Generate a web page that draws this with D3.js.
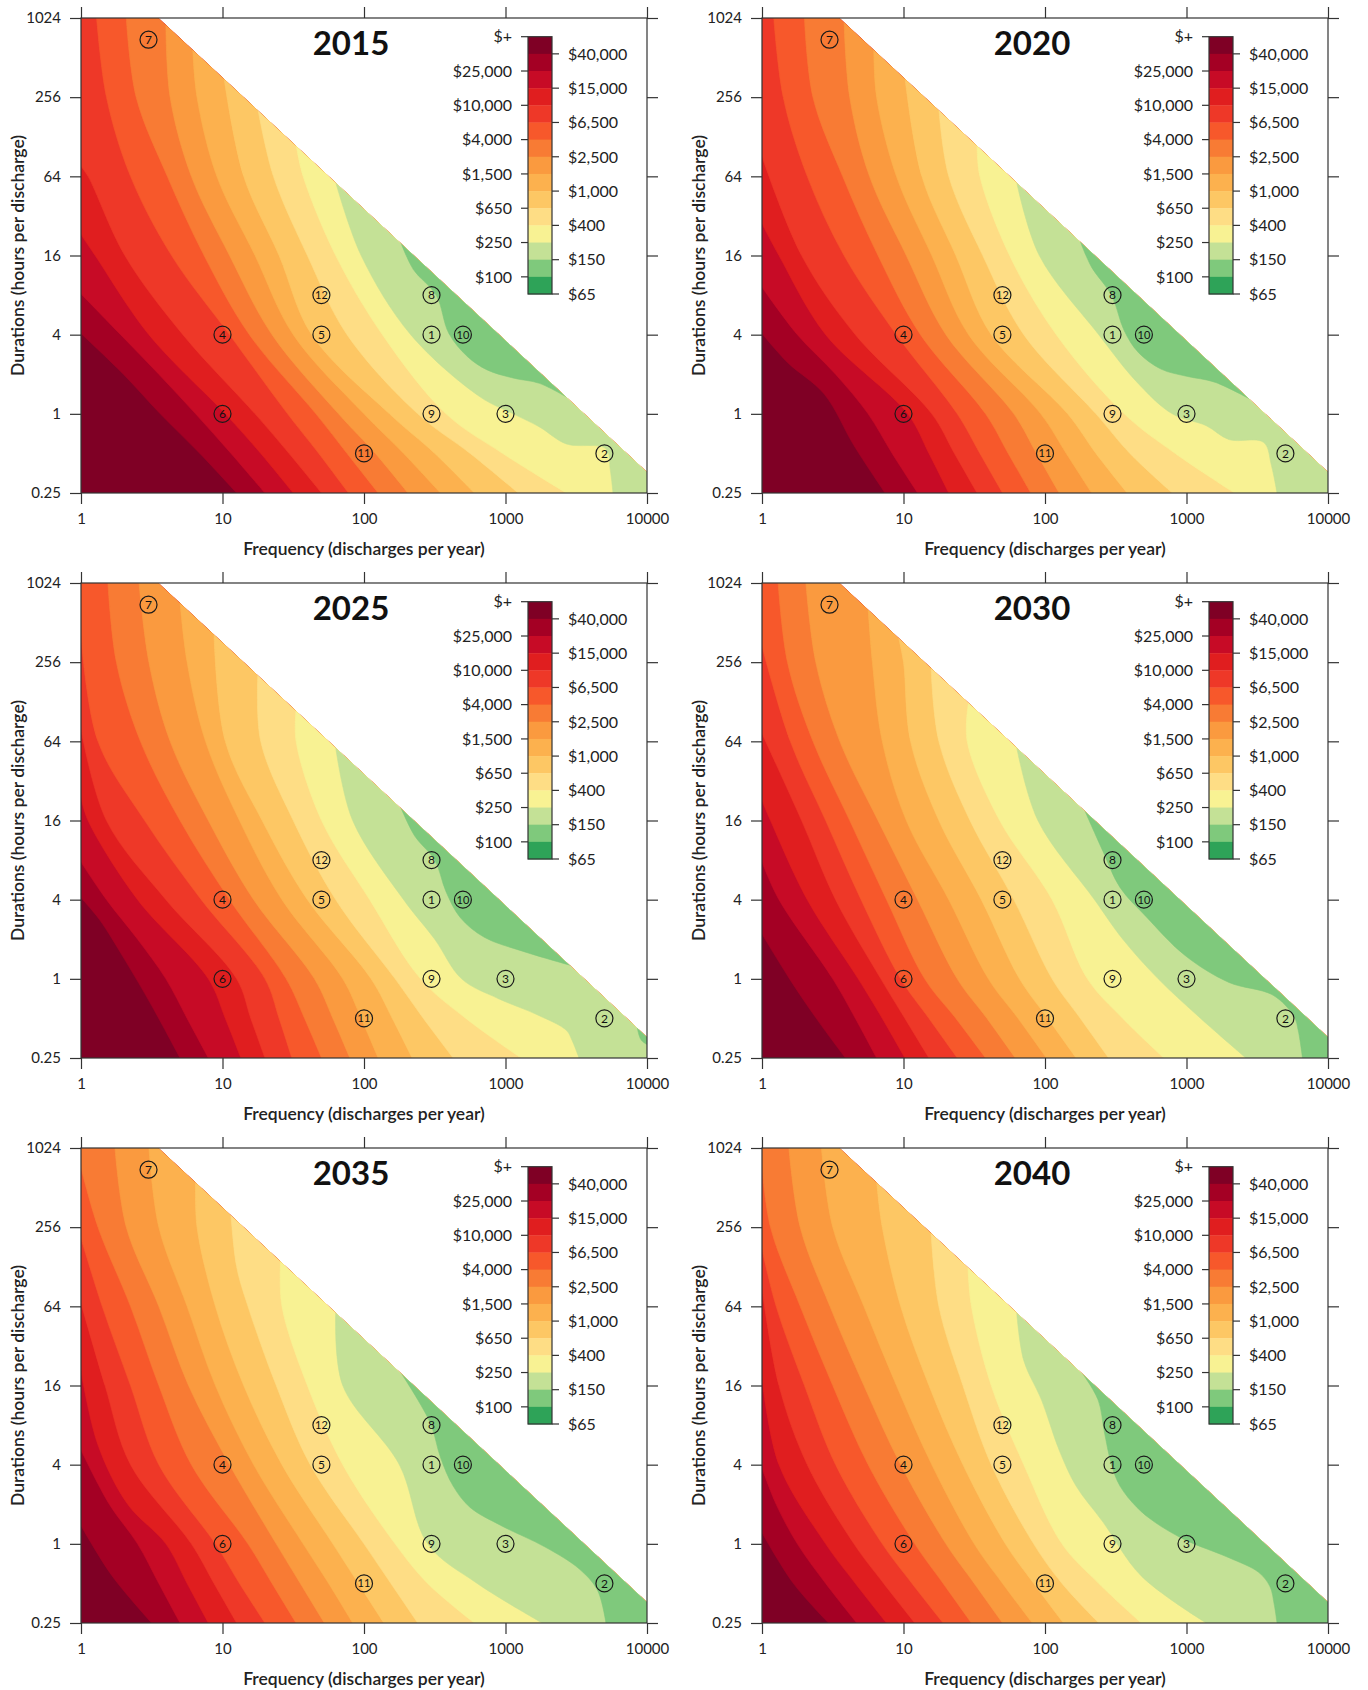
<!DOCTYPE html>
<html><head><meta charset="utf-8">
<script src="https://cdn.jsdelivr.net/npm/d3@7"></script>
<style>
body{margin:0;background:#fff;}
svg{display:block;font-family:Lato,"Open Sans",sans-serif;}
</style></head><body>
<svg id="chart" width="1368" height="1690"></svg>
<script>
// ---------------- data ----------------
const years = ["2015","2020","2025","2030","2035","2040"];
const freqTicks = [1,10,100,1000,10000];
const durTicks = [0.25,1,4,16,64,256,1024];
const costLabels = ["$+","$40,000","$25,000","$15,000","$10,000","$6,500","$4,000","$2,500","$1,500","$1,000","$650","$400","$250","$150","$100","$65"];
const bandColors = ["#7f0025","#a40024","#c70b26","#e01e1f","#ee3828","#f7582b","#f87b34","#fa9a3f","#fcb14e","#fdc764","#fedd85","#f8f293","#c4e196","#7fc97c","#2ea358"];
const hourBudget = 3600; // max hours per year (frequency x duration)
const markerIds  = [1,2,3,4,5,6,7,8,9,10,11,12];
const markerFreq = [300,5000,1000,10,50,10,3,300,300,500,100,50];
const markerDur  = [4,0.5,1,4,4,1,700,8,1,4,0.5,8];

// contour boundaries: [k, points] ; boundary k separates band k (costlier) from band k+1
// points are [log10(frequency), log2(duration)], from upper end to lower end
const contours2015 = [
 [1,[[0,2.03],[0.30,1.0],[0.56,0],[0.84,-1],[1.10,-2]]],
 [2,[[0,3.03],[0.28,2],[0.55,1],[0.81,0],[1.06,-1],[1.30,-2]]],
 [3,[[0,4.53],[0.10,4],[0.48,2],[1.02,0],[1.27,-1],[1.50,-2]]],
 [4,[[0,6.25],[0.05,6],[0.31,4],[0.72,2],[1.23,0],[1.47,-1],[1.70,-2]]],
 [5,[[0.11,10],[0.18,8],[0.35,6],[0.64,4],[1.05,2],[1.46,0],[1.68,-1],[1.89,-2]]],
 [6,[[0.32,10],[0.39,8],[0.61,6],[0.87,4],[1.19,2],[1.66,0],[1.88,-1],[2.10,-2]]],
 [7,[[0.60,9.85],[0.63,8],[0.78,6],[1.05,4],[1.35,2],[1.82,0],[2.08,-1],[2.31,-2]]],
 [8,[[0.79,9.2],[0.82,8],[0.96,6],[1.23,4],[1.50,2],[2.00,0],[2.28,-1],[2.54,-2]]],
 [9,[[1.01,8.5],[1.15,6],[1.40,4],[1.63,2],[2.18,0],[2.50,-1],[2.78,-2]]],
 [10,[[1.25,7.7],[1.36,6],[1.60,4],[1.88,2],[2.38,0],[2.75,-1],[3.09,-2]]],
 [11,[[1.52,6.8],[1.57,6],[1.80,4],[2.13,2],[2.58,0],[2.98,-1],[3.43,-2]]],
 [12,[[1.80,5.85],[1.98,4],[2.33,2],[2.82,0.43],[3.055,0],[3.24,-0.33],[3.43,-0.76],[3.71,-0.88],[3.74,-1.4],[3.76,-2]]],
 [13,[[2.26,4.33],[2.35,3.64],[2.51,3.0],[2.60,2.03],[2.73,1.45],[2.87,1.11],[3.06,0.90],[3.24,0.77],[3.47,0.345]]]
];
const contours2020 = [
 [1,[[0,2.03],[0.18,1.3],[0.44,0.5],[0.65,-0.8],[0.87,-2]]],
 [2,[[0,3.2],[0.25,2],[0.52,1],[0.75,0],[0.92,-1],[1.10,-2]]],
 [3,[[0,4.8],[0.12,4],[0.45,2],[1.03,0],[1.18,-1],[1.32,-2]]],
 [4,[[0,6.5],[0.28,4],[0.66,2],[1.20,0],[1.36,-1],[1.52,-2]]],
 [5,[[0.083,10],[0.15,8],[0.32,6],[0.58,4],[0.95,2],[1.38,0],[1.54,-1],[1.70,-2]]],
 [6,[[0.30,10],[0.36,8],[0.57,6],[0.82,4],[1.12,2],[1.58,0],[1.74,-1],[1.90,-2]]],
 [7,[[0.58,9.9],[0.62,8],[0.76,6],[1.02,4],[1.30,2],[1.78,0],[1.94,-1],[2.10,-2]]],
 [8,[[0.79,9.2],[0.81,8],[0.95,6],[1.20,4],[1.46,2],[1.97,0],[2.15,-1],[2.33,-2]]],
 [9,[[1.01,8.5],[1.13,6],[1.37,4],[1.62,2],[2.16,0],[2.36,-1],[2.58,-2]]],
 [10,[[1.25,7.7],[1.32,6],[1.56,4],[1.85,2],[2.36,0],[2.60,-1],[2.90,-2]]],
 [11,[[1.52,6.8],[1.54,6],[1.75,4],[2.08,2],[2.56,0],[2.92,-1],[3.34,-2]]],
 [12,[[1.80,5.85],[1.96,4],[2.38,2],[2.65,0.8],[2.90,0],[3.14,-0.3],[3.30,-0.65],[3.545,-0.72],[3.60,-1.3],[3.64,-2]]],
 [13,[[2.25,4.35],[2.33,3.7],[2.47,3.0],[2.56,2.1],[2.66,1.55],[2.82,1.13],[3.00,0.95],[3.20,0.8],[3.46,0.35]]]
];
const contours2025 = [
 [1,[[0,2.05],[0.13,1.5],[0.31,0.48],[0.50,-0.68],[0.70,-2]]],
 [2,[[0,2.95],[0.18,2],[0.40,1],[0.60,0],[0.75,-1],[0.90,-2]]],
 [3,[[0,4.58],[0.05,4],[0.40,2],[0.90,0],[1.02,-1],[1.13,-2]]],
 [4,[[0,6.3],[0.18,4],[0.60,2],[1.10,0],[1.20,-1],[1.30,-2]]],
 [5,[[0,8.66],[0.12,6],[0.45,4],[0.85,2],[1.30,0],[1.40,-1],[1.49,-2]]],
 [6,[[0.19,10],[0.25,8],[0.42,6],[0.70,4],[1.05,2],[1.45,0],[1.58,-1],[1.70,-2]]],
 [7,[[0.41,10],[0.48,8],[0.63,6],[0.90,4],[1.22,2],[1.65,0],[1.78,-1],[1.90,-2]]],
 [8,[[0.70,9.5],[0.75,8],[0.88,6],[1.12,4],[1.42,2],[1.85,0],[1.98,-1],[2.10,-2]]],
 [9,[[0.94,8.7],[1.02,6],[1.28,4],[1.60,2],[2.05,0],[2.20,-1],[2.34,-2]]],
 [10,[[1.25,7.7],[1.27,6],[1.50,4],[1.80,2],[2.22,0],[2.42,-1],[2.63,-2]]],
 [11,[[1.52,6.8],[1.52,6],[1.70,4],[2.04,2],[2.40,0],[2.72,-1],[3.11,-2]]],
 [12,[[1.80,5.85],[1.92,4],[2.28,2],[2.50,1],[2.69,0],[2.95,-0.5],[3.22,-0.9],[3.43,-1.3],[3.47,-1.55],[3.52,-2]]],
 [13,[[2.26,4.33],[2.36,3.6],[2.50,3.0],[2.58,2.2],[2.68,1.55],[2.85,1.05],[3.12,0.70],[3.47,0.33]]],
 [13,[[3.93,-1.2],[3.96,-1.55],[4.05,-1.75]]]
];
const contours2030 = [
 [1,[[0,1.13],[0.22,-0.14],[0.41,-1.13],[0.59,-2]]],
 [2,[[0,2.95],[0.12,2],[0.50,0],[0.66,-1],[0.81,-2]]],
 [3,[[0,4.5],[0.06,4],[0.32,2],[0.68,0],[0.85,-1],[1.01,-2]]],
 [4,[[0,6.2],[0.28,4],[0.52,2],[0.84,0],[1.01,-1],[1.18,-2]]],
 [5,[[0,8.4],[0.20,6],[0.45,4],[0.70,2],[0.98,0],[1.18,-1],[1.38,-2]]],
 [6,[[0.114,10],[0.18,8],[0.36,6],[0.62,4],[0.88,2],[1.15,0],[1.37,-1],[1.58,-2]]],
 [7,[[0.31,10],[0.38,8],[0.55,6],[0.82,4],[1.10,2],[1.38,0],[1.59,-1],[1.79,-2]]],
 [8,[[0.75,9.34],[0.78,8],[0.85,6],[1.02,4],[1.32,2],[1.60,0],[1.81,-1],[2.01,-2]]],
 [9,[[0.965,8.62],[1.00,8],[1.05,6],[1.25,4],[1.55,2],[1.82,0],[2.02,-1],[2.22,-2]]],
 [10,[[1.195,7.86],[1.25,6],[1.47,4],[1.78,2],[2.05,0],[2.25,-1],[2.45,-2]]],
 [11,[[1.46,6.99],[1.45,6],[1.68,4],[2.05,2],[2.30,0],[2.55,-1],[2.84,-2]]],
 [12,[[1.80,5.85],[1.95,4],[2.35,2],[2.55,1],[2.80,0],[3.10,-1],[3.42,-2]]],
 [13,[[2.28,4.26],[2.41,3.22],[2.53,2.31],[2.71,1.59],[2.99,0.59],[3.30,-0.09],[3.61,-0.41],[3.76,-0.95],[3.79,-1.31],[3.82,-2]]]
];
const contours2035 = [
 [1,[[0,0.46],[0.22,-0.81],[0.50,-2]]],
 [2,[[0,2.37],[0.20,1],[0.40,0],[0.55,-1],[0.70,-2]]],
 [3,[[0,4.36],[0.12,2.5],[0.33,1],[0.60,0],[0.75,-1],[0.90,-2]]],
 [4,[[0,6.08],[0.17,4],[0.35,2],[0.78,0],[0.94,-1],[1.10,-2]]],
 [5,[[0,7.72],[0.15,6],[0.35,4],[0.55,2],[0.95,0],[1.12,-1],[1.30,-2]]],
 [6,[[0,9.5],[0.12,8],[0.35,6],[0.55,4],[0.78,2],[1.18,0],[1.35,-1],[1.52,-2]]],
 [7,[[0.24,10],[0.32,8],[0.55,6],[0.76,4],[1.05,2],[1.38,0],[1.55,-1],[1.72,-2]]],
 [8,[[0.48,10],[0.55,8],[0.75,6],[0.95,4],[1.22,2],[1.57,0],[1.75,-1],[1.92,-2]]],
 [9,[[0.81,9.15],[0.82,8],[0.95,6],[1.15,4],[1.42,2],[1.78,0],[1.96,-1],[2.14,-2]]],
 [10,[[1.06,8.3],[1.10,7],[1.18,6],[1.38,4],[1.62,2],[2.00,0],[2.19,-1],[2.38,-2]]],
 [11,[[1.41,7.15],[1.42,6],[1.60,4],[1.85,2],[2.22,0],[2.45,-1],[2.78,-2]]],
 [12,[[1.80,5.85],[1.85,4],[2.25,2],[2.45,0],[2.80,-1],[3.26,-2]]],
 [13,[[2.26,4.33],[2.38,3.64],[2.475,3.0],[2.54,2.19],[2.63,1.46],[2.75,0.92],[2.97,0.46],[3.28,-0.08],[3.52,-0.63],[3.65,-1.17],[3.71,-2]]]
];
const contours2040 = [
 [1,[[0,0.28],[0.22,-0.99],[0.47,-2]]],
 [2,[[0,1.91],[0.10,1],[0.25,0],[0.45,-1],[0.67,-2]]],
 [3,[[0,4.18],[0.12,2],[0.45,0],[0.66,-1],[0.88,-2]]],
 [4,[[0,6.45],[0.12,4],[0.32,2],[0.65,0],[0.86,-1],[1.08,-2]]],
 [5,[[0,7.44],[0.10,6],[0.30,4],[0.52,2],[0.85,0],[1.06,-1],[1.28,-2]]],
 [6,[[0,9.53],[0.06,8],[0.27,6],[0.50,4],[0.75,2],[1.08,0],[1.28,-1],[1.48,-2]]],
 [7,[[0.19,10],[0.27,8],[0.48,6],[0.72,4],[0.98,2],[1.30,0],[1.50,-1],[1.70,-2]]],
 [8,[[0.42,10],[0.50,8],[0.72,6],[0.95,4],[1.20,2],[1.50,0],[1.70,-1],[1.91,-2]]],
 [9,[[0.81,9.15],[0.85,8],[0.98,6],[1.18,4],[1.42,2],[1.72,0],[1.92,-1],[2.13,-2]]],
 [10,[[1.195,7.86],[1.25,6],[1.42,4],[1.62,2],[1.92,0],[2.12,-1],[2.38,-2]]],
 [11,[[1.455,7.0],[1.48,6],[1.62,4],[1.85,2],[2.12,0],[2.38,-1],[2.68,-2]]],
 [12,[[1.80,5.85],[1.85,4.63],[1.975,3.64],[2.10,2.37],[2.22,1.46],[2.41,0.55],[2.68,-0.81],[3.14,-2]]],
 [13,[[2.26,4.33],[2.375,3.64],[2.42,2.82],[2.47,2.0],[2.53,1.46],[2.65,0.92],[2.775,0.55],[2.99,0.10],[3.30,-0.35],[3.51,-0.72],[3.59,-1.08],[3.62,-1.53],[3.64,-2]]]
];
const contoursByYear = {"2015":contours2015,"2020":contours2020,"2025":contours2025,"2030":contours2030,"2035":contours2035,"2040":contours2040};

// ---------------- layout ----------------
const W = 566, H = 475;
const colX = [81, 762], rowY = [18, 583, 1148];
const svg = d3.select("#chart");
const ink = "#333";

function regionPath(pts, X, Y){
  const P = pts.map(p => [X(p[0]), Y(p[1])]);
  let d = d3.line().curve(d3.curveCatmullRom.alpha(0.5))(P);
  const s = pts[0], e = pts[pts.length-1];
  const ext = [];
  if (e[1] <= -1.95) ext.push([e[0], -4], [6, -4]);
  else if (e[0] >= 3.95) ext.push([6, e[1]]);
  else ext.push([e[0]+0.5, e[1]+1.6]);
  ext.push([6, 14]);
  if (s[0] <= 0.02) ext.push([-2, 14], [-2, s[1]]);
  else if (s[1] >= 9.95) ext.push([s[0], 14]);
  else ext.push([s[0]+0.5, 14], [s[0]+0.5, s[1]+1.6]);
  d += ext.map(p => "L" + X(p[0]) + "," + Y(p[1])).join("") + "Z";
  return d;
}

years.forEach((yr, i) => {
  const ox = colX[i % 2], oy = rowY[Math.floor(i / 2)];
  const g = svg.append("g").attr("transform", `translate(${ox},${oy})`);
  const x = d3.scaleLog().domain([1, 10000]).range([0, W]);
  const y = d3.scaleLog().base(2).domain([0.25, 1024]).range([H, 0]);
  const X = u => x(Math.pow(10, u)), Y = v => y(Math.pow(2, v));

  const tri = [[1,0.25],[1,1024],[hourBudget/1024,1024],[10000,hourBudget/10000],[10000,0.25]];
  const triPath = d3.line()(tri.map(p => [x(p[0]), y(p[1])])) + "Z";
  const clipId = "clip" + yr;
  g.append("clipPath").attr("id", clipId).append("path").attr("d", triPath);
  const cg = g.append("g").attr("clip-path", `url(#${clipId})`);
  cg.append("path").attr("d", triPath).attr("fill", bandColors[0]);
  contoursByYear[yr].slice().sort((a, b) => a[0] - b[0]).forEach(([k, pts]) => {
    cg.append("path").attr("d", regionPath(pts, X, Y)).attr("fill", bandColors[k]).attr("stroke", bandColors[k]).attr("stroke-width", 0.6);
  });

  // frame
  g.append("rect").attr("width", W).attr("height", H).attr("fill", "none").attr("stroke", ink).attr("stroke-width", 1.2);

  // axes
  const fmt = d => String(d);
  const styleAxis = sel => {
    sel.select(".domain").remove();
    sel.selectAll("line").attr("stroke", ink).attr("stroke-width", 1.2);
    sel.selectAll("text").attr("fill", "#222").style("font-size", "15px").style("font-family", "Lato");
  };
  g.append("g").attr("transform", `translate(0,${H})`)
    .call(d3.axisBottom(x).tickValues(freqTicks).tickFormat(fmt).tickSize(11).tickPadding(9)).call(styleAxis);
  g.append("g").call(d3.axisTop(x).tickValues(freqTicks).tickFormat("").tickSize(11)).call(styleAxis);
  g.append("g").call(d3.axisLeft(y).tickValues(durTicks).tickFormat(fmt).tickSize(11).tickPadding(9)).call(styleAxis);
  g.append("g").attr("transform", `translate(${W},0)`)
    .call(d3.axisRight(y).tickValues(durTicks).tickFormat("").tickSize(11)).call(styleAxis);

  // titles
  g.append("text").attr("x", W/2).attr("y", H + 56).attr("text-anchor", "middle")
    .attr("dy", "0.35em").attr("fill", "#222")
    .style("font-size", "17.5px").style("font-weight", "600").text("Frequency (discharges per year)");
  g.append("text").attr("transform", `translate(-63,${H/2}) rotate(-90)`).attr("text-anchor", "middle")
    .attr("dy", "0.35em").attr("fill", "#222")
    .style("font-size", "17.5px").style("font-weight", "600").text("Durations (hours per discharge)");
  g.append("text").attr("x", 270).attr("y", 36.5).attr("text-anchor", "middle").attr("fill", "#111")
    .style("font-size", "33px").style("font-weight", "700").text(yr);

  // legend
  const lg = g.append("g").attr("transform", "translate(447,18.7)");
  const barW = 24, barH = 257.3, bandH = barH / bandColors.length;
  lg.selectAll("rect.band").data(bandColors).join("rect").attr("class", "band")
    .attr("x", 0).attr("y", (c, j) => j * bandH).attr("width", barW).attr("height", bandH + 0.4).attr("fill", c => c);
  lg.append("rect").attr("width", barW).attr("height", barH).attr("fill", "none").attr("stroke", ink).attr("stroke-width", 1.2);
  costLabels.forEach((lab, j) => {
    const yy = j * bandH;
    if (j % 2 === 0) {
      lg.append("line").attr("x1", -7).attr("x2", 0).attr("y1", yy).attr("y2", yy).attr("stroke", ink).attr("stroke-width", 1.2);
      lg.append("text").attr("x", -16).attr("y", yy).attr("dy", "0.36em").attr("text-anchor", "end")
        .attr("fill", "#222").style("font-size", "16px").text(lab);
    } else {
      lg.append("line").attr("x1", barW).attr("x2", barW + 7).attr("y1", yy).attr("y2", yy).attr("stroke", ink).attr("stroke-width", 1.2);
      lg.append("text").attr("x", barW + 16).attr("y", yy).attr("dy", "0.36em").attr("text-anchor", "start")
        .attr("fill", "#222").style("font-size", "16px").text(lab);
    }
  });

  // markers
  const mk = g.append("g");
  markerIds.forEach((id, j) => {
    const cx = x(markerFreq[j]), cy = y(markerDur[j]);
    mk.append("circle").attr("cx", cx).attr("cy", cy).attr("r", 8.5).attr("fill", "none").attr("stroke", "#1a1a1a").attr("stroke-width", 1.2);
    mk.append("text").attr("x", cx).attr("y", cy).attr("dy", "0.36em").attr("text-anchor", "middle")
      .attr("fill", "#111").style("font-size", id >= 10 ? "11px" : "12px").text(id);
  });
});
</script>
</body></html>
